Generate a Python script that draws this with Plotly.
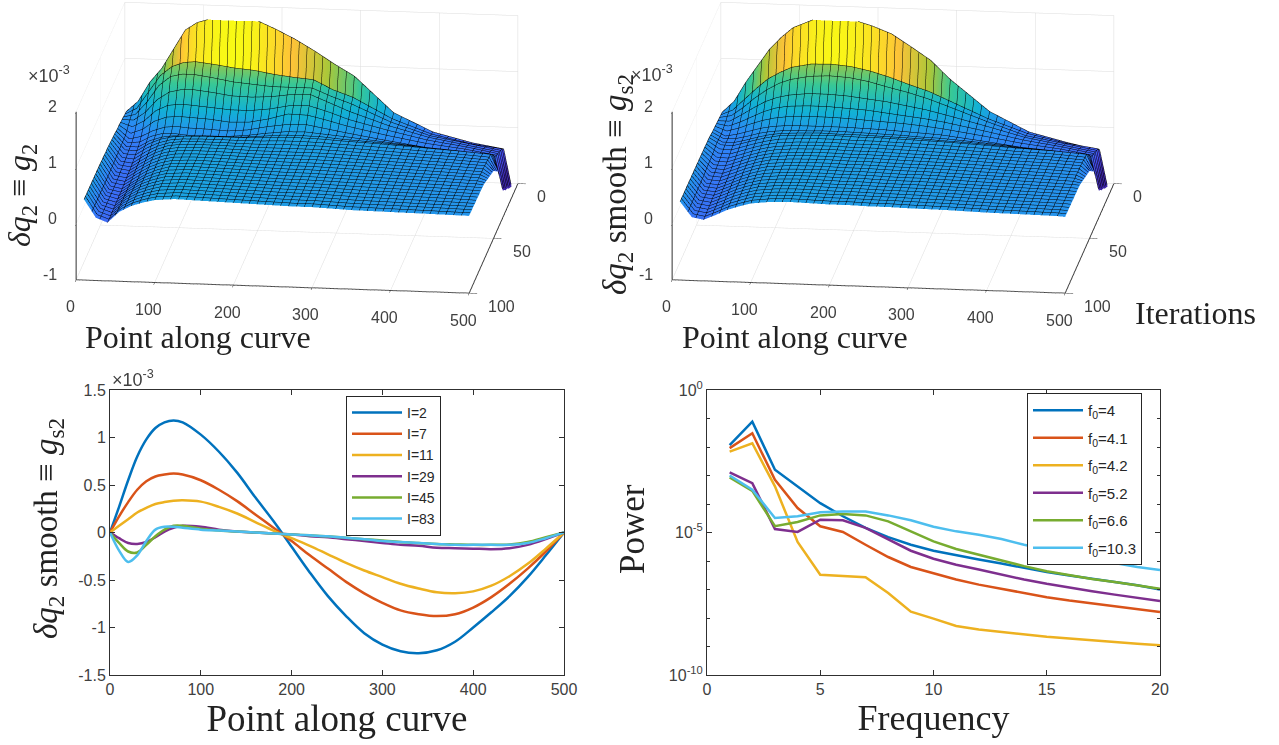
import plotly.graph_objects as go

# ---------- surfaces (values x 1e-3)
surf_x = [10,25,40,55,70,85,100,125,150,175,200,225,250,275,300,350,400,450,490,500]
surf_y = [13,16,19,22,25,28,31,34,37,40,50,70,100]
row_fix = [0,-.02,-.04,-.06,-.08,-.1,-.12,-.08,-.04,0,0,0,0]
raw_z = [
 [.31,.5,.85,1.1,1.45,1.8,1.94,2.05,2.09,2.02,1.87,1.7,1.5,1.28,1.08,.45,.13,-.04,-.13,-.8],
 [.34,.45,.75,1.05,1.22,1.3,1.32,1.28,1.23,1.2,1.14,1.1,1.07,.9,.78,.42,.17,.02,-.05,-.74],
 [.37,.42,.65,.95,1.12,1.17,1.17,1.12,1.06,1.03,1.0,1.0,1.0,.86,.74,.44,.22,.1,0,-.68],
 [.40,.4,.55,.78,.92,.97,.98,.94,.89,.88,.9,.95,.96,.82,.68,.45,.27,.15,.05,-.6],
 [.43,.36,.47,.66,.76,.79,.78,.75,.72,.72,.76,.83,.84,.74,.62,.45,.3,.2,.1,-.55],
 [.46,.32,.4,.55,.63,.65,.64,.62,.58,.59,.66,.76,.75,.67,.58,.44,.32,.24,.15,-.47],
 [.48,.3,.35,.46,.53,.55,.53,.52,.5,.53,.6,.65,.66,.6,.54,.43,.33,.27,.2,-.4],
 [.45,.25,.27,.38,.44,.44,.42,.42,.42,.45,.5,.54,.55,.52,.49,.42,.35,.3,.25,-.25],
 [.42,.2,.2,.32,.39,.42,.42,.42,.43,.44,.47,.5,.5,.49,.46,.42,.37,.32,.28,-.1],
 [.39,.16,.15,.28,.37,.42,.44,.45,.45,.45,.46,.48,.48,.47,.45,.42,.38,.34,.3,0],
 [.41,.13,.1,.24,.36,.44,.47,.48,.48,.47,.46,.46,.46,.46,.45,.42,.39,.36,.33,.2],
 [.43,.1,.06,.2,.33,.42,.48,.5,.49,.48,.47,.46,.45,.45,.44,.42,.4,.38,.36,.35],
 [.44,.12,.04,.24,.35,.42,.47,.5,.49,.48,.47,.46,.45,.44,.44,.41,.4,.39,.38,.38],
]
smooth_z = [
 [.3,.5,.85,1.15,1.45,1.67,1.85,2.0,2.06,2.03,1.93,1.8,1.58,1.35,1.02,.47,.13,-.04,-.15,-.8],
 [.33,.42,.62,.82,1.0,1.12,1.22,1.29,1.3,1.27,1.2,1.1,.98,.87,.72,.42,.18,.03,-.05,-.74],
 [.36,.4,.55,.73,.88,1.0,1.08,1.15,1.17,1.15,1.09,1.0,.92,.82,.7,.45,.22,.1,0,-.68],
 [.38,.38,.5,.63,.75,.83,.88,.92,.92,.9,.86,.82,.76,.7,.62,.45,.27,.15,.05,-.6],
 [.41,.37,.45,.55,.65,.72,.76,.78,.78,.76,.74,.7,.66,.62,.57,.44,.3,.2,.1,-.55],
 [.44,.36,.42,.5,.57,.62,.65,.67,.67,.66,.64,.62,.6,.57,.53,.43,.32,.24,.15,-.47],
 [.46,.35,.39,.45,.51,.55,.57,.58,.58,.58,.57,.56,.54,.52,.5,.42,.33,.27,.2,-.4],
 [.43,.32,.33,.38,.44,.48,.5,.51,.52,.52,.51,.5,.49,.47,.46,.41,.35,.3,.25,-.25],
 [.40,.28,.28,.33,.39,.44,.47,.49,.5,.49,.49,.48,.47,.46,.44,.41,.36,.32,.28,-.1],
 [.37,.25,.24,.3,.36,.41,.45,.47,.48,.48,.47,.47,.46,.45,.44,.41,.37,.34,.3,0],
 [.38,.2,.19,.26,.33,.39,.43,.46,.47,.47,.46,.46,.45,.44,.43,.41,.38,.36,.33,.2],
 [.39,.15,.13,.21,.3,.37,.42,.45,.46,.46,.45,.45,.44,.43,.43,.41,.39,.37,.35,.34],
 [.4,.13,.09,.18,.28,.35,.41,.45,.46,.45,.44,.44,.43,.43,.42,.41,.39,.38,.37,.36],
]

# ---------- smooth curves
pt_x = [0,10,20,30,40,50,60,70,80,100,120,140,160,180,200,220,240,260,280,300,320,340,360,380,400,420,440,460,480,500]
I2  = [0,.27,.55,.8,.98,1.1,1.16,1.18,1.16,1.03,.85,.63,.37,.12,-.15,-.42,-.67,-.88,-1.06,-1.18,-1.25,-1.27,-1.24,-1.15,-1.0,-.84,-.67,-.47,-.24,0]
I7  = [0,.17,.32,.45,.54,.59,.61,.62,.61,.55,.45,.33,.19,.05,-.09,-.24,-.38,-.52,-.64,-.74,-.82,-.86,-.88,-.86,-.79,-.68,-.54,-.38,-.2,0]
I11 = [0,.07,.14,.21,.26,.3,.32,.335,.34,.325,.27,.2,.11,.02,-.06,-.14,-.23,-.32,-.4,-.47,-.54,-.59,-.63,-.64,-.62,-.56,-.46,-.33,-.17,0]
I29 = [0,-.06,-.11,-.12,-.1,-.05,.01,.05,.07,.06,.03,.01,0,-.01,-.02,-.04,-.05,-.07,-.09,-.11,-.13,-.14,-.16,-.165,-.17,-.175,-.165,-.13,-.07,0]
I45 = [0,-.11,-.2,-.21,-.13,-.04,.03,.07,.07,.04,.02,.01,0,-.01,-.02,-.03,-.04,-.055,-.07,-.085,-.1,-.11,-.12,-.125,-.13,-.13,-.125,-.1,-.05,0]
I83 = [0,-.19,-.31,-.24,-.09,.03,.06,.06,.05,.03,.02,.01,0,-.01,-.02,-.03,-.04,-.055,-.07,-.09,-.1,-.11,-.12,-.13,-.13,-.13,-.13,-.11,-.06,0]

# ---------- spectra (log10 power)
freq = list(range(1, 21))
f40  = [-1.93,-1.11,-2.8,-3.38,-3.97,-4.43,-4.84,-5.16,-5.43,-5.64,-5.8,-5.95,-6.09,-6.24,-6.39,-6.51,-6.63,-6.73,-6.85,-7.0]
f41  = [-2.04,-1.52,-3.15,-4.14,-4.78,-4.98,-5.43,-5.86,-6.21,-6.44,-6.65,-6.83,-6.98,-7.12,-7.27,-7.39,-7.49,-7.6,-7.69,-7.79]
f42  = [-2.16,-1.87,-3.38,-5.33,-6.48,-6.52,-6.57,-7.12,-7.78,-8.02,-8.28,-8.4,-8.49,-8.58,-8.66,-8.72,-8.79,-8.84,-8.9,-8.96]
f52  = [-2.89,-3.27,-4.88,-4.98,-4.55,-4.57,-4.84,-5.25,-5.64,-5.92,-6.13,-6.3,-6.48,-6.65,-6.8,-6.94,-7.06,-7.18,-7.29,-7.4]
f66  = [-3.07,-3.54,-4.78,-4.63,-4.4,-4.35,-4.4,-4.61,-4.96,-5.31,-5.58,-5.78,-5.99,-6.18,-6.36,-6.5,-6.63,-6.74,-6.86,-6.97]
f103 = [-3.0,-3.5,-4.49,-4.43,-4.29,-4.26,-4.26,-4.4,-4.57,-4.8,-4.96,-5.08,-5.23,-5.43,-5.6,-5.78,-5.93,-6.07,-6.21,-6.32]

x_ticks_3d = [0,100,200,300,400,500]
y_ticks_3d = [0,50,100]
z_ticks_3d = [-1,0,1,2]

colors = ["#0072BD","#D95319","#EDB120","#7E2F8E","#77AC30","#4DBEEE"]
parula = [[0,"#3e26a8"],[1/7,"#4852f4"],[2/7,"#2d87f7"],[3/7,"#12b1d6"],[4/7,"#37c897"],
          [5/7,"#abc739"],[6/7,"#fec338"],[1,"#f9fb14"]]
W, H = 1279, 745
SANS = "Liberation Sans"
SERIF = "Liberation Serif"
TICK = "#404040"
AX = "#303030"

fig = go.Figure()

def surface(z, scene):
    fixed = [[v + d for v in row] for row, d in zip(z, row_fix)]
    # first band keeps the colour of the ridge row, as MATLAB's flat facets do
    geom = [fixed[0], fixed[1]] + fixed[1:]
    tint = [fixed[0], fixed[0]] + fixed[1:]
    ys = [surf_y[0], surf_y[1] - 0.02] + surf_y[1:]
    line = dict(show=True, color="#000000", width=2)
    fig.add_trace(go.Surface(
        x=surf_x, y=ys, z=geom, surfacecolor=tint, scene=scene, colorscale=parula, cmin=-0.48, cmax=2.09,
        showscale=False, hoverinfo="skip",
        lighting=dict(ambient=1, diffuse=0, specular=0, roughness=1, fresnel=0),
        contours=dict(
            x=dict(start=10, end=500, size=10, **line),
            y=dict(start=13, end=100, size=3, **line),
            z=dict(show=False),
        ),
    ))

surface(raw_z, "scene")
surface(smooth_z, "scene2")

def axis3d(rng, vals):
    return dict(range=rng, tickvals=vals, title=dict(text=""), showticklabels=False,
                showbackground=False, gridcolor="#dcdcdc", gridwidth=1, zeroline=False,
                showline=True, linecolor=AX, linewidth=2, ticks="outside", ticklen=8, tickcolor=AX,
                showspikes=False)

def tick_note(x, y, z, text, **kw):
    return dict(x=x, y=y, z=z, text=text, showarrow=False,
                font=dict(family=SANS, size=16, color=TICK), **kw)

def tick_notes():
    out = [tick_note(v, 100, -1, str(v), xshift=-6, yshift=-27) for v in x_ticks_3d]
    out += [tick_note(500, v, -1, str(v), xanchor="left", xshift=17, yshift=-13) for v in y_ticks_3d]
    out += [tick_note(0, 100, v, str(v), xanchor="right", xshift=-17, yshift=5) for v in z_ticks_3d]
    return out

CZ = -0.272
def scene(x0, x1):
    return dict(
        domain=dict(x=[x0/W, x1/W], y=[1-400/H, 1]),
        xaxis=axis3d([0,500], x_ticks_3d),
        yaxis=axis3d([100,0], y_ticks_3d),
        zaxis=axis3d([-1,2], z_ticks_3d),
        aspectmode="manual",
        aspectratio=dict(x=1.98, y=2.0, z=0.874),
        annotations=tick_notes(),
        camera=dict(
            projection=dict(type="orthographic"),
            center=dict(x=0, y=0, z=CZ),
            eye=dict(x=0.41, y=-3.34, z=CZ+0.966),
            up=dict(x=0, y=0, z=1),
        ),
    )

for name, vals, c in zip(["I=2","I=7","I=11","I=29","I=45","I=83"], [I2,I7,I11,I29,I45,I83], colors):
    fig.add_trace(go.Scatter(x=pt_x, y=vals, name=name, mode="lines", xaxis="x", yaxis="y",
                             line=dict(color=c, width=2.5, shape="spline", smoothing=1.0), legend="legend"))
for name, vals, c in zip(["f<sub>0</sub>=4","f<sub>0</sub>=4.1","f<sub>0</sub>=4.2","f<sub>0</sub>=5.2","f<sub>0</sub>=6.6","f<sub>0</sub>=10.3"],
                         [f40,f41,f42,f52,f66,f103], colors):
    fig.add_trace(go.Scatter(x=freq, y=[10**v for v in vals], name=name, mode="lines", xaxis="x2", yaxis="y2",
                             line=dict(color=c, width=2.5), legend="legend2", legendgroup=name))

def ax2d(**kw):
    d = dict(showline=True, linecolor=AX, linewidth=1, mirror="ticks", ticks="inside", ticklen=5,
             tickcolor=AX, showgrid=False, zeroline=False, tickfont=dict(family=SANS, size=16, color=TICK))
    d.update(kw)
    return d

title_big = dict(family=SERIF, size=37, color="#222222")
legend_common = dict(bgcolor="white", bordercolor="#262626", borderwidth=1, xanchor="left", yanchor="top", itemwidth=50)

fig.update_layout(
    width=W, height=H, margin=dict(l=0, r=0, t=0, b=0, autoexpand=False), paper_bgcolor="white", plot_bgcolor="white",
    showlegend=True,
    scene=scene(0, 594), scene2=scene(596, 1190),
    xaxis=ax2d(domain=[110/W, 564/W], range=[0,500], tickvals=[0,100,200,300,400,500],
               title=dict(text="Point along curve", font=title_big, standoff=6), anchor="y"),
    yaxis=ax2d(domain=[1-675/H, 1-390/H], range=[-1.5,1.5], tickvals=[-1.5,-1,-.5,0,.5,1,1.5],
               ticktext=["-1.5","-1","-0.5","0","0.5","1","1.5"], anchor="x"),
    xaxis2=ax2d(domain=[707/W, 1160/W], range=[0,20], tickvals=[0,5,10,15,20],
                title=dict(text="Frequency", font=dict(family=SERIF, size=36, color="#222222"), standoff=6), anchor="y2"),
    yaxis2=ax2d(domain=[1-675/H, 1-390/H], type="log", range=[-10,0], tickvals=[1,1e-5,1e-10],
                ticktext=["10<sup>0</sup>","10<sup>-5</sup>","10<sup>-10</sup>"], anchor="x2",
                minor=dict(tickvals=[10**-i for i in range(1,10)], ticks="inside", ticklen=3, tickcolor=AX)),
    legend=dict(x=346/W, y=1-396/H, font=dict(family=SANS, size=14, color="#262626"), traceorder="normal", **legend_common),
    legend2=dict(x=1027/W, y=1-393/H, font=dict(family=SANS, size=15, color="#262626"), tracegroupgap=5, traceorder="grouped", **legend_common),
)

def note(x, y, text, size, angle=0, family=SERIF, color="#222222", anchor="center"):
    fig.add_annotation(x=x/W, y=1-y/H, xref="paper", yref="paper", text=text, showarrow=False, textangle=angle,
                       font=dict(family=family, size=size, color=color), xanchor=anchor, yanchor="middle")

eq = "\u2261"
note(198, 337, "Point along curve", 32)
note(795, 337, "Point along curve", 32)
note(1195, 313, "Iterations", 32)
note(22, 195, f"<i>\u03b4q</i><sub>2</sub> {eq} <i>g</i><sub>2</sub>", 32, -90)
note(618, 185, f"<i>\u03b4q</i><sub>2</sub> smooth {eq} <i>g</i><sub>s2</sub>", 33, -90)
note(48, 529, f"<i>\u03b4q</i><sub>2</sub> smooth {eq} <i>g</i><sub>s2</sub>", 33, -90)
note(632, 529, "Power", 35, -90)
note(49, 75, "\u00d710<sup>-3</sup>", 18, family=SANS, color=TICK)
note(652, 73, "\u00d710<sup>-3</sup>", 18, family=SANS, color=TICK)
note(133, 378, "\u00d710<sup>-3</sup>", 18, family=SANS, color=TICK)

fig.write_html("out.html", post_script="document.body.style.margin='0';", config={"displayModeBar": False})
